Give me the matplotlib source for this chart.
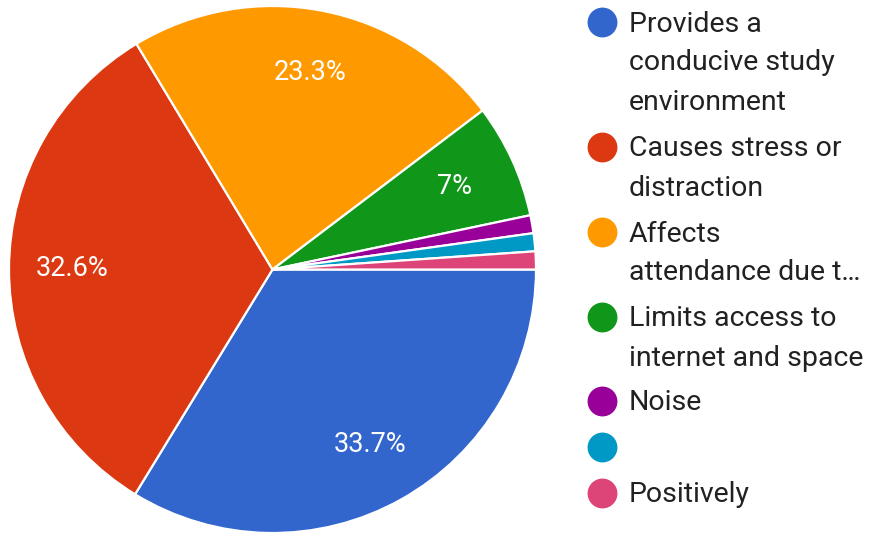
import numpy as np
import matplotlib.pyplot as plt

plt.rcParams['font.family'] = ['Roboto', 'DejaVu Sans']

# slice data, clockwise from 3 o'clock
labels = ["Provides a\nconducive study\nenvironment",
          "Causes stress or\ndistraction",
          "Affects\nattendance due t\u2026",
          "Limits access to\ninternet and space",
          "Noise",
          "",
          "Positively"]
values = [33.7, 32.6, 23.3, 7.0, 1.1, 1.1, 1.1]
pct_text = ["33.7%", "32.6%", "23.3%", "7%", "", "", ""]
colors = ["#3366CC", "#DC3912", "#FF9900", "#109618", "#990099", "#0099C6", "#DD4477"]

fig = plt.figure(figsize=(8.7, 5.33), dpi=100)
ax = fig.add_axes([9 / 870, 0.0, 527 / 870, 527 / 533])
wedges, _ = ax.pie(values, colors=colors, startangle=0, counterclock=False,
                   radius=1.0, wedgeprops=dict(edgecolor='white', linewidth=1.6))
ax.set_xlim(-1.0, 1.0)
ax.set_ylim(-1.0, 1.0)
ax.set_aspect('equal')

# percent labels inside slices
for w, t in zip(wedges, pct_text):
    if not t:
        continue
    mid = np.deg2rad((w.theta1 + w.theta2) / 2)
    ax.text(0.76 * np.cos(mid), 0.76 * np.sin(mid), t, color='white',
            fontsize=19.5, ha='center', va='center')

# legend on the right, drawn by hand to match the wrapped entries
lax = fig.add_axes([0, 0, 1, 1])
lax.set_xlim(0, 870)
lax.set_ylim(533, 0)
lax.axis('off')
marker_y = [22, 147, 232, 317, 401, 447, 493]
for y, lab, c in zip(marker_y, labels, colors):
    lax.scatter([602], [y], s=420, color=c, zorder=3)
    for i, line in enumerate(lab.split('\n')):
        lax.text(629, y + 2 + i * 39, line, fontsize=20.5, color='#212121',
                 va='center', ha='left')

fig.savefig('out.png', dpi=100)
